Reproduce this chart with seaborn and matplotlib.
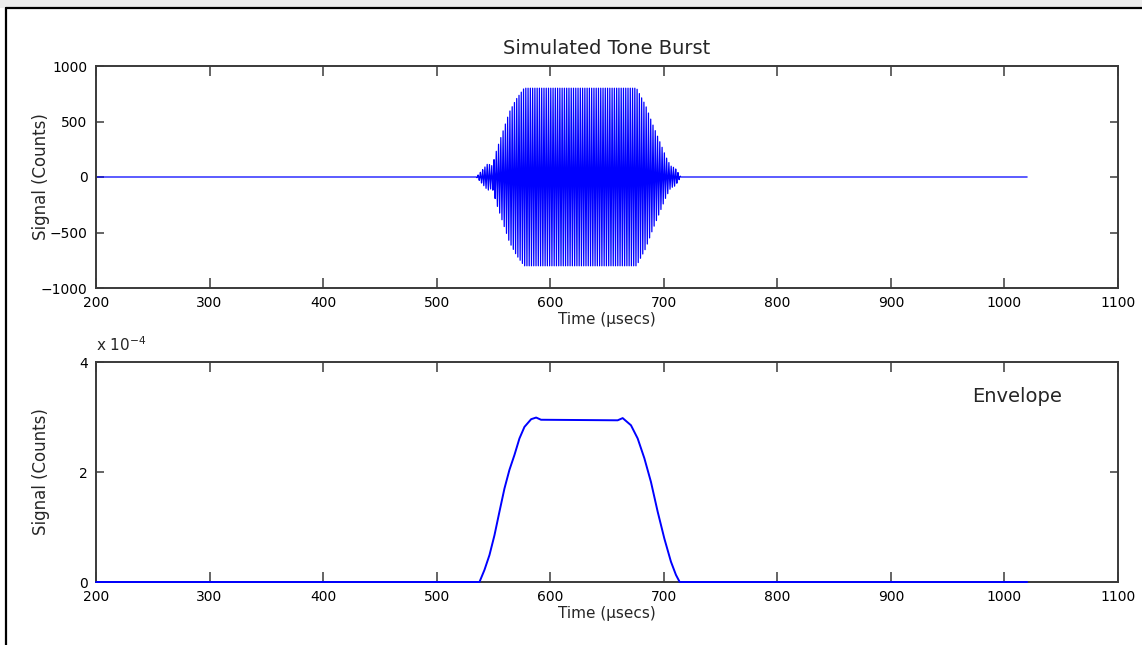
import numpy as np
import pandas as pd
import matplotlib
matplotlib.use("Agg")
import matplotlib.pyplot as plt
import seaborn as sns
from matplotlib.patches import Rectangle
from matplotlib.lines import Line2D

# ---- data ----
# Tone burst envelope (counts) at key times (usecs)
burst_env_time = [200, 535, 540, 545, 549, 553, 558, 564, 570, 577, 676, 684, 690, 696, 702, 706, 710, 715, 1020]
burst_env_amp = [0, 0, 60, 120, 100, 250, 400, 585, 700, 800, 800, 645, 480, 330, 180, 100, 80, 0, 0]
carrier_freq_mhz = 0.5
sample_step_us = 0.5

# Envelope trace (counts) at key times (usecs)
env_time = [200, 537.7, 542.1, 546.5, 550.9, 555.3, 559.7, 564.1, 568.5, 572.9, 577.3, 583.2, 587.6,
            591.9, 659.4, 663.8, 671.1, 677.0, 682.9, 688.7, 694.6, 700.5, 706.3, 710.7, 714.0, 1020]
env_value = [0, 0, 0.22e-4, 0.49e-4, 0.85e-4, 1.28e-4, 1.70e-4, 2.04e-4, 2.31e-4, 2.61e-4, 2.82e-4, 2.96e-4, 2.99e-4,
             2.95e-4, 2.94e-4, 2.98e-4, 2.85e-4, 2.61e-4, 2.25e-4, 1.82e-4, 1.28e-4, 0.79e-4, 0.37e-4, 0.13e-4, 0, 0]

x_ticks = [200, 300, 400, 500, 600, 700, 800, 900, 1000, 1100]
top_y_ticks = [-1000, -500, 0, 500, 1000]
bot_y_ticks = [0, 2e-4, 4e-4]
bot_y_labels = ['0', '2', '4']

title_text = "Simulated Tone Burst"
xlabel_text = "Time (µsecs)"
ylabel_text = "Signal (Counts)"
envelope_text = "Envelope"

# ---- build series ----
t = np.arange(burst_env_time[0], burst_env_time[-1] + sample_step_us / 2, sample_step_us)
amp = np.interp(t, burst_env_time, burst_env_amp)
burst_df = pd.DataFrame({"time": t, "signal": amp * np.sin(2 * np.pi * carrier_freq_mhz * t)})
env_df = pd.DataFrame({"time": env_time, "signal": env_value})

sns.set_style("white")
plt.rcParams['font.family'] = ['DejaVu Sans']

W, H = 1142, 645
fig = plt.figure(figsize=(W / 100, H / 100), dpi=100)
fig.patch.set_facecolor('white')

# outer frame like the source screenshot
fig.add_artist(Rectangle((0, 1 - 8 / H), 1, 8 / H, transform=fig.transFigure,
                         facecolor='#ececec', edgecolor='none', zorder=0))
fig.add_artist(Line2D([6 / W, 6 / W], [0, 1 - 8 / H], transform=fig.transFigure, color='black', lw=1.6))
fig.add_artist(Line2D([6 / W, 1], [1 - 8 / H, 1 - 8 / H], transform=fig.transFigure, color='black', lw=1.6))

ax1 = fig.add_axes([96 / W, 1 - 288 / H, 1022 / W, 222 / H])
ax2 = fig.add_axes([96 / W, 1 - 582 / H, 1022 / W, 220 / H])

line_color = '#0000ff'
sns.lineplot(data=burst_df, x="time", y="signal", ax=ax1, color=line_color, lw=0.9,
             estimator=None, sort=False)
sns.lineplot(data=env_df, x="time", y="signal", ax=ax2, color=line_color, lw=1.4,
             estimator=None, sort=False)
for ln in ax2.get_lines():
    ln.set_clip_on(False)
    ln.set_zorder(3)
    ln.set_solid_joinstyle('round')

spine_color = '#3a3a3a'
for ax in (ax1, ax2):
    ax.set_xlim(200, 1100)
    ax.set_xticks(x_ticks)
    for s in ax.spines.values():
        s.set_color(spine_color)
        s.set_linewidth(1.4)
    ax.tick_params(axis='x', direction='in', top=True, bottom=True, length=7, width=1.1,
                   color=spine_color, labelsize=10, pad=6, labelcolor='black')
    ax.tick_params(axis='y', direction='in', left=True, right=True, length=5.5, width=1.1,
                   color=spine_color, labelsize=10, pad=6, labelcolor='black')
    ax.set_xlabel(xlabel_text, fontsize=11)
    ax.set_ylabel(ylabel_text, fontsize=12)
    ax.xaxis.set_label_coords(0.5, -0.11)
    ax.yaxis.set_label_coords(-0.045, 0.5)
    ax.grid(False)

ax1.set_ylim(-1000, 1000)
ax1.set_yticks(top_y_ticks)
ax1.set_title(title_text, fontsize=14, pad=9)

ax2.set_ylim(0, 4e-4)
ax2.set_yticks(bot_y_ticks)
ax2.set_yticklabels(bot_y_labels)
ax2.text(0.0, 1.05, r"x 10$^{-4}$", transform=ax2.transAxes, ha='left', va='baseline', fontsize=11)
ax2.text(0.901, 0.845, envelope_text, transform=ax2.transAxes, ha='center', va='center', fontsize=14)

fig.savefig("out.png", dpi=100, facecolor='white')
